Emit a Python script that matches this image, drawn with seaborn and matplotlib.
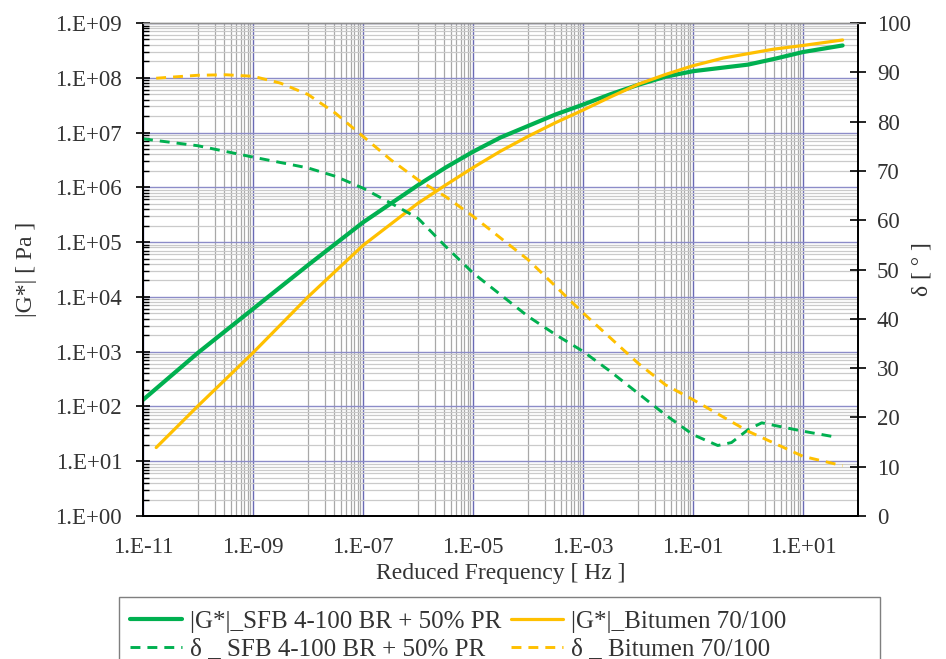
import matplotlib
matplotlib.use("Agg")
import matplotlib.pyplot as plt
import matplotlib.ticker as mticker
from matplotlib.patches import Rectangle
import seaborn as sns
import numpy as np
import pandas as pd

# values (log10 of reduced frequency in Hz)
sfb_g_logf = [-11, -10, -9, -8, -7, -6, -5.5, -5, -4.5, -4, -3.5, -3, -2.5, -2, -1.5,
              -1, 0, 0.5, 1, 1.72]
sfb_g_logG = [2.12, 2.98, 3.78, 4.58, 5.36, 6.04, 6.36, 6.65, 6.91, 7.12, 7.33, 7.51,
              7.70, 7.87, 8.02, 8.12, 8.24, 8.35, 8.47, 8.59]

bit_g_logf = [-10.76, -10, -9, -8, -7, -6, -5.5, -5, -4.5, -4, -3.5, -3, -2.5, -2,
              -1.5, -1, -0.45, 0, 0.45, 1, 1.72]
bit_g_logG = [1.25, 2.01, 2.98, 4.00, 4.94, 5.71, 6.04, 6.36, 6.66, 6.93, 7.18, 7.41,
              7.65, 7.88, 8.06, 8.22, 8.36, 8.44, 8.52, 8.59, 8.69]

sfb_d_logf = [-11, -10, -9, -8, -7.5, -7, -6.5, -6, -5.5, -5, -4.5, -4, -3.5, -3, -2.5, -2,
              -1.5, -1, -0.55, -0.3, 0, 0.25, 1, 1.6]
sfb_d_deg = [76.5, 75.1, 72.8, 70.6, 68.9, 66.5, 63.5, 60.4, 54.7, 49.3, 44.9, 40.5, 36.8, 33.4,
             29.3, 24.9, 20.5, 16.5, 14.3, 14.9, 17.5, 18.9, 17.2, 16.0]

bit_d_logf = [-10.76, -10, -9.5, -9, -8.5, -8, -7.5, -7, -6.5, -6, -5.5, -5, -4.5, -4, -3.5, -3,
              -2.5, -2, -1.5, -1, 0, 1, 1.72]
bit_d_deg = [88.8, 89.4, 89.5, 89.2, 87.8, 85.5, 81.7, 77.0, 72.3, 68.2, 64.8, 60.8, 56.4, 52.0,
             46.6, 41.2, 36.1, 31.0, 26.6, 23.6, 17.2, 12.1, 10.2]

labels = ["|G*|_SFB 4-100 BR + 50% PR", "|G*|_Bitumen 70/100",
          "δ _ SFB 4-100 BR + 50% PR", "δ _ Bitumen 70/100"]

green = "#00B050"
orange = "#FFC000"

sns.set_style("white")
plt.rcParams["font.family"] = ["Liberation Serif", "DejaVu Serif"]
plt.rcParams["font.size"] = 16

sfb_g = pd.DataFrame({"f": 10.0 ** np.array(sfb_g_logf), "v": 10.0 ** np.array(sfb_g_logG)})
bit_g = pd.DataFrame({"f": 10.0 ** np.array(bit_g_logf), "v": 10.0 ** np.array(bit_g_logG)})
sfb_d = pd.DataFrame({"f": 10.0 ** np.array(sfb_d_logf), "v": sfb_d_deg})
bit_d = pd.DataFrame({"f": 10.0 ** np.array(bit_d_logf), "v": bit_d_deg})

fig = plt.figure(figsize=(9.46, 6.59), dpi=100)
ax = fig.add_axes([143 / 946, 1 - 516 / 659, 715 / 946, 493 / 659])
ax2 = ax.twinx()

sns.lineplot(data=sfb_g, x="f", y="v", ax=ax, color=green, lw=3.0, label=labels[0],
             legend=False, errorbar=None)
sns.lineplot(data=bit_g, x="f", y="v", ax=ax, color=orange, lw=2.3, label=labels[1],
             legend=False, errorbar=None)
sns.lineplot(data=sfb_d, x="f", y="v", ax=ax2, color=green, lw=2.1, label=labels[2],
             legend=False, errorbar=None, linestyle=(0, (3.4, 2.4)))
sns.lineplot(data=bit_d, x="f", y="v", ax=ax2, color=orange, lw=2.1, label=labels[3],
             legend=False, errorbar=None, linestyle=(0, (3.4, 2.4)))

ax.set_xscale("log")
ax.set_yscale("log")
ax.set_xlim(1e-11, 1e2)
ax.set_ylim(1e0, 1e9)
ax2.set_ylim(0, 100)

fmt = mticker.FuncFormatter(lambda v, p: f"1.E{int(round(np.log10(v))):+03d}")

xmaj = [10.0 ** e for e in range(-11, 2, 2)]
xmin = [k * 10.0 ** (e + 1) for e in range(-11, 2, 2) for k in range(1, 10)]
xmin = [v for v in xmin if v <= 1e2 * 1.0001]
ax.xaxis.set_major_locator(mticker.FixedLocator(xmaj))
ax.xaxis.set_minor_locator(mticker.FixedLocator(xmin))
ax.xaxis.set_major_formatter(fmt)
ax.xaxis.set_minor_formatter(mticker.NullFormatter())

ax.yaxis.set_major_locator(mticker.FixedLocator([10.0 ** e for e in range(0, 10)]))
ax.yaxis.set_minor_locator(mticker.FixedLocator([k * 10.0 ** e for e in range(0, 9) for k in range(2, 10)]))
ax.yaxis.set_major_formatter(fmt)
ax.yaxis.set_minor_formatter(mticker.NullFormatter())

ax2.yaxis.set_major_locator(mticker.MultipleLocator(10))

ax.grid(True, which="major", axis="x", color="#6A6AB4", lw=1.0)
ax.grid(True, which="major", axis="y", color="#8C8CC8", lw=1.0)
ax.grid(True, which="minor", axis="x", color="#A8A8A8", lw=0.9)
ax.grid(True, which="minor", axis="y", color="#CACACA", lw=0.9)
ax.set_axisbelow(True)

txt = "#333333"
fs = 16.5
ax.tick_params(axis="y", which="major", direction="inout", length=10, width=1.2, pad=10,
               labelsize=fs, colors="black", labelcolor=txt)
ax.tick_params(axis="y", which="minor", direction="in", length=4, width=1.0, colors="black")
ax.tick_params(axis="x", which="major", direction="inout", length=10, width=1.2, pad=10,
               labelsize=fs, colors="black", labelcolor=txt)
ax.tick_params(axis="x", which="minor", length=0)
ax2.tick_params(axis="y", which="major", direction="inout", length=11, width=1.2, pad=8,
                labelsize=fs, colors="black", labelcolor=txt)

for a in (ax, ax2):
    a.spines["top"].set_color("#909090")
    a.spines["top"].set_linewidth(1.0)
    for s in ("left", "right", "bottom"):
        a.spines[s].set_color("black")
        a.spines[s].set_linewidth(1.3)

ax.set_xlabel("Reduced Frequency [ Hz ]", fontsize=17, color=txt)
ax.set_ylabel("|G*| [ Pa ]", fontsize=17, color=txt)
ax2.set_ylabel("δ [ ° ]", fontsize=17, color=txt)
ax.xaxis.set_label_coords(0.5, -0.095)
ax.yaxis.set_label_coords(-0.148, 0.5)
ax2.yaxis.set_label_coords(1.075, 0.5)

h1, l1 = ax.get_legend_handles_labels()
h2, l2 = ax2.get_legend_handles_labels()
handles = [h1[0], h2[0], h1[1], h2[1]]
leg_labels = [l1[0], l2[0], l1[1], l2[1]]
fig.legend(handles, leg_labels, loc="upper left", bbox_to_anchor=(117 / 946, 1 - 598 / 659),
           ncol=2, frameon=False, fontsize=18, handlelength=2.1, handletextpad=0.3,
           columnspacing=0.4, labelspacing=0.2, borderpad=0.0, labelcolor=txt)
fig.add_artist(Rectangle((119 / 946, -0.05), (880 - 119) / 946, (1 - 597 / 659) + 0.05,
                         transform=fig.transFigure, fill=False, edgecolor="#7F7F7F", lw=1.0))

fig.savefig("out.png", dpi=100)
